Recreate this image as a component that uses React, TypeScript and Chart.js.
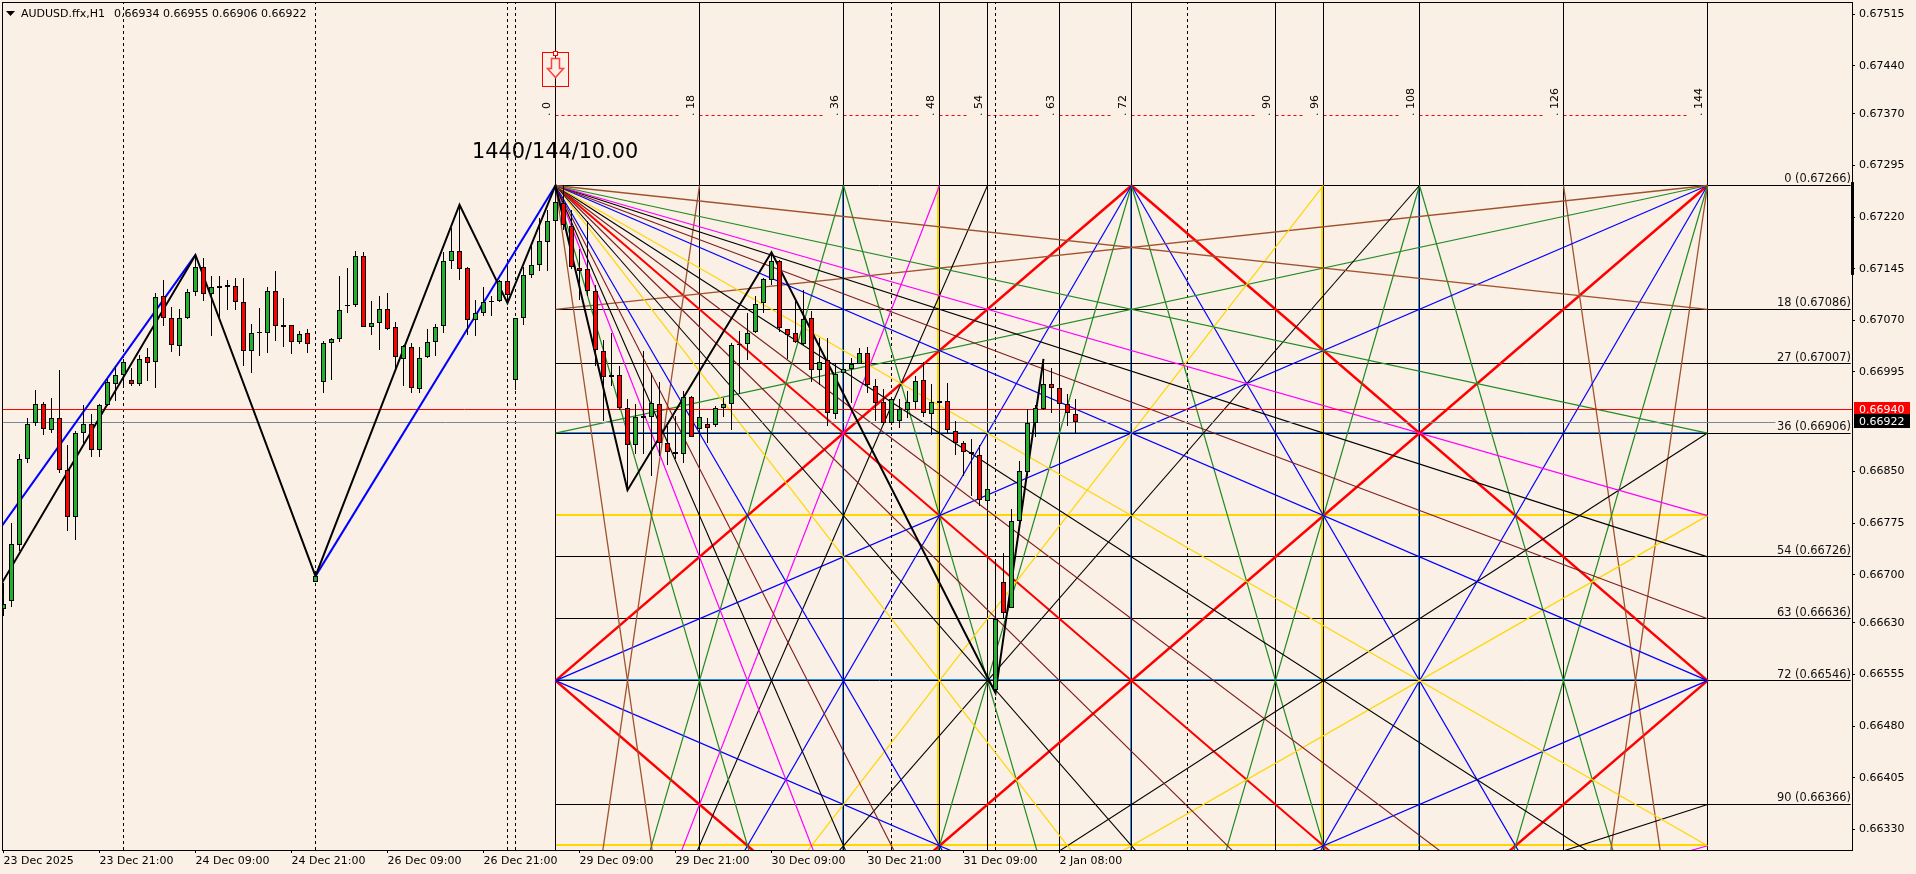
import { useEffect, useRef } from "react";
import { Chart, registerables } from "chart.js";

Chart.register(...registerables);

const FONT = '"DejaVu Sans", sans-serif';
const PAPER = "#FAF0E6";
const BROWN = "#A0522D";
const GREEN = "#228B22";
const MAGENTA = "#FF00FF";
const BLACK = "#000000";
const MAROON = "#7F1D1D";
const BLUE = "#0000FF";
const GOLD = "#FFD700";
const RED = "#FF0000";
const AZURE = "#1E90FF";

// Candles, one per hour bar, in points (66934 = 0.66934). The first bar is number -69.
const firstBar = -69;
const opens = [66650,66662,66743,66868,66921,66948,66911,66928,66852,66784,66906,66919,66882,66947,66978,66991,66983,66977,67016,67009,67105,67073,67033,67073,67111,67147,67108,67117,67118,67120,67097,67025,67052,67052,67113,67060,67063,67038,67052,66690,66980,67037,67043,67091,67092,67163,67060,67066,67086,67060,67014,67031,66970,67017,67038,67062,67156,67171,67146,67070,67081,67097,67098,67127,66983,67073,67136,67150,67184,67214,67241,67207,67146,67144,67113,67025,66988,66991,66943,66889,66928,66930,66948,66892,66879,66876,66959,66912,66919,66918,66943,66948,67034,67036,67053,67095,67129,67156,67057,67052,67035,67073,66998,67012,66934,66994,66999,67006,67023,66974,66951,66921,66924,66940,66951,66983,66934,66950,66953,66909,66892,66879,66874,66807,66532,66690,66652,66778,66849,66921,66941,66977,66971,66948,66934];
const highs = [66688,66775,66876,66928,66968,66951,66957,66997,66888,66909,66947,66934,66949,66984,67003,67013,67000,67020,67029,67110,67129,67090,67087,67116,67165,67160,67135,67135,67129,67131,67132,67065,67088,67118,67142,67103,67063,67054,67057,66698,67040,67044,67135,67146,67171,67170,67098,67106,67109,67068,67034,67037,67031,67058,67065,67170,67204,67238,67147,67099,67118,67106,67129,67149,67073,67148,67180,67219,67231,67266,67266,67231,67173,67214,67122,67042,67052,67003,66955,66948,67025,66994,66981,66916,66931,66967,66960,66931,66928,66945,66957,67037,67055,67081,67105,67132,67169,67157,67057,67098,67114,67084,67044,67044,67006,67010,67015,67029,67031,66985,66970,66957,66956,66967,66989,67010,66978,66979,66979,66923,66894,66897,66888,66826,66722,66731,66795,66866,66941,66947,67014,67001,66991,66963,66955];
const lows = [66640,66653,66734,66862,66916,66903,66906,66848,66763,66750,66892,66871,66871,66945,66952,66974,66974,66974,66982,66971,67061,67024,67018,67072,67105,67098,67047,67072,67085,67085,67003,66994,67018,67022,67040,67031,67021,67035,67022,66690,66964,66983,67039,67080,67089,67060,67048,67027,67056,66996,66974,66964,66964,67015,67018,67051,67145,67128,67048,67047,67076,67076,67096,67094,66968,67063,67131,67142,67141,67214,67202,67144,67100,67105,67003,66923,66974,66940,66824,66876,66875,66843,66872,66859,66869,66863,66900,66892,66892,66915,66929,66911,66963,67012,67052,67080,67122,67053,67014,67037,67034,66980,66976,66916,66927,66950,66950,67006,66964,66923,66918,66918,66914,66928,66941,66930,66903,66916,66904,66874,66843,66814,66800,66804,66528,66637,66651,66778,66843,66900,66940,66935,66947,66917,66906];
const closes = [66658,66744,66868,66919,66948,66912,66928,66852,66784,66906,66919,66882,66947,66980,66991,67009,66978,67014,67008,67104,67073,67034,67073,67111,67147,67108,67118,67120,67121,67097,67025,67052,67053,67113,67062,67063,67038,67050,67036,66698,67037,67043,67085,67092,67163,67060,67066,67086,67057,67017,67033,66972,67015,67038,67060,67156,67171,67145,67070,67081,67097,67098,67127,67107,67073,67136,67150,67185,67214,67242,67209,67148,67141,67113,67027,66988,66991,66942,66888,66930,66931,66950,66892,66879,66876,66959,66900,66930,66914,66943,66948,67034,67036,67052,67094,67130,67156,67059,67049,67039,67072,66998,67009,66935,66992,66999,67006,67023,66976,66950,66921,66956,66941,66951,66982,66935,66951,66953,66911,66892,66879,66876,66809,66825,66635,66644,66778,66851,66921,66942,66977,66971,66948,66935,66922];

// Zigzag and trend lines (bar number, price)
const zigzagBars = [-69.2, -45, -30, -12, -6, 0, 9, 27, 55, 61];
const zigzagPrices = [0.66688, 0.67165, 0.66698, 0.67238, 0.67095, 0.67266, 0.66823, 0.67169, 0.66528, 0.67014];
const trendABars = [-69.2, -45];
const trendAPrices = [0.66771, 0.67165];
const trendBBars = [-30, 0];
const trendBPrices = [0.66698, 0.67266];

// Gann box: grid unit = 1 bar across, 0.00010 down, from the pivot
const pivotPrice = 0.67266;
const priceUnit = 0.0001;
const gannBars = [0, 18, 36, 48, 54, 63, 72, 90, 96, 108, 126, 144];
const gannLabels = gannBars.map((b) => ". " + b);
const blueBars = [36, 72, 108];
const goldBars = [48, 96];
const levelNames = [0, 18, 27, 36, 54, 63, 72, 90];
const levelPrices = [0.67266, 0.67086, 0.67007, 0.66906, 0.66726, 0.66636, 0.66546, 0.66366];
const blueLevels = [36, 72];
const goldLevels = [48, 96];
const dashedBars = [-54, -30, -6, -5, 42, 55, 79];
const dottedPrice = 0.67368;

// Fan segments: from bar, from unit, to bar, to unit, colour, width
const fans: [number, number, number, number, string, number][] = [
  [0, 0, 144, 18, BROWN, 1.3], [0, 0, 144, 36, GREEN, 1.2], [0, 0, 144, 48, MAGENTA, 1.2],
  [0, 0, 144, 54, BLACK, 1.1], [0, 0, 144, 63, MAROON, 1.1], [0, 0, 144, 72, BLUE, 1.2],
  [0, 0, 144, 96, GOLD, 1.2], [0, 0, 144, 108, BLACK, 1.1], [0, 0, 144, 126, MAROON, 1.1],
  [0, 0, 126, 144, MAROON, 1.1], [0, 0, 108, 144, BLACK, 1.1], [0, 0, 96, 144, GOLD, 1.2],
  [0, 0, 72, 144, BLUE, 1.2], [0, 0, 63, 144, MAROON, 1.1], [0, 0, 54, 144, BLACK, 1.1],
  [0, 0, 48, 144, MAGENTA, 1.2], [0, 0, 36, 144, GREEN, 1.2], [0, 0, 18, 144, BROWN, 1.3],
  [0, 144, 18, 0, BROWN, 1.3], [0, 144, 36, 0, GREEN, 1.2], [0, 144, 48, 0, MAGENTA, 1.2],
  [0, 144, 54, 0, BLACK, 1.1], [0, 144, 72, 0, BLUE, 1.2], [0, 144, 96, 0, GOLD, 1.2],
  [0, 144, 108, 0, BLACK, 1.1],
  [0, 144, 144, 36, BLACK, 1.1], [0, 144, 144, 48, GOLD, 1.2], [0, 144, 144, 72, BLUE, 1.2],
  [0, 144, 144, 90, BLACK, 1.1], [0, 144, 144, 96, MAGENTA, 1.2],
  [0, 18, 144, 0, BROWN, 1.3], [0, 36, 144, 0, GREEN, 1.2], [0, 72, 144, 0, BLUE, 1.2],
  [108, 144, 144, 0, GREEN, 1.2], [126, 144, 144, 0, BROWN, 1.3], [72, 144, 144, 0, BLUE, 1.2],
  [36, 0, 72, 144, GREEN, 1.2], [72, 0, 108, 144, GREEN, 1.2], [36, 144, 72, 0, GREEN, 1.2],
  [72, 144, 108, 0, GREEN, 1.2], [108, 0, 144, 144, GREEN, 1.2], [126, 0, 144, 144, BROWN, 1.3],
  [72, 0, 144, 144, BLUE, 1.2], [0, 72, 144, 144, BLUE, 1.2],
  [0, 72, 72, 0, RED, 2.5], [72, 0, 144, 72, RED, 2.5], [0, 72, 72, 144, RED, 2.5],
  [72, 144, 144, 72, RED, 2.5], [0, 0, 144, 144, RED, 2], [0, 144, 144, 0, RED, 2.5],
];

// Axes
const yTicks = [0.67515, 0.6744, 0.6737, 0.67295, 0.6722, 0.67145, 0.6707, 0.66995, 0.6685, 0.66775, 0.667, 0.6663, 0.66555, 0.6648, 0.66405, 0.6633];
const xTickBars = [-69, -57, -45, -33, -21, -9, 3, 15, 27, 39, 51, 63];
const xTickLabels = ["23 Dec 2025", "23 Dec 21:00", "24 Dec 09:00", "24 Dec 21:00", "26 Dec 09:00", "26 Dec 21:00", "29 Dec 09:00", "29 Dec 21:00", "30 Dec 09:00", "30 Dec 21:00", "31 Dec 09:00", "2 Jan 08:00"];
const xMin = -69.1875;
const xMax = 162.0625;
const yMin = 0.662998;
const yMax = 0.675328;

const headerName = "AUDUSD.ffx,H1";
const headerValues = "0.66934 0.66955 0.66906 0.66922";
const boxTitle = "1440/144/10.00";
const askPrice = 0.6694;
const bidPrice = 0.66922;
const bidLineEndBar = 152.5;
const rangeBarPrices = [0.67271, 0.67136];
const arrowAnchorPrice = 0.6746;

const levelToPrice = (m: number) => pivotPrice - m * priceUnit;
const points = (v: number) => v / 100000;

const line = (xs: number[], ys: number[], color: string, width: number, order: number, extra: any = {}) => ({
  type: "line",
  data: xs.map((x, i) => ({ x, y: ys[i] })),
  borderColor: color,
  borderWidth: width,
  pointRadius: 0,
  tension: 0,
  fill: false,
  order,
  ...extra,
});

const snapPlugin = {
  id: "snap",
  afterDatasetsUpdate(chart: any) {
    chart.data.datasets.forEach((ds: any, i: number) => {
      const meta = chart.getDatasetMeta(i);
      if (ds.type === "bar") {
        meta.data.forEach((b: any) => {
          const t = Math.round(Math.min(b.y, b.base));
          let e = Math.round(Math.max(b.y, b.base));
          if (e - t < 1) e = t + 1;
          b.y = t;
          b.base = e;
          b.height = e - t;
        });
      } else if (ds.snap) {
        const odd = Math.round(ds.borderWidth) % 2 === 1;
        const fix = (v: number) => (odd ? Math.round(v - 0.5) + 0.5 : Math.floor(v)) + (ds.shift || 0);
        meta.data.forEach((p: any) => {
          if (ds.snap === "h") p.y = fix(p.y);
          else p.x = fix(p.x);
        });
      }
    });
  },
};

const paperPlugin = {
  id: "paper",
  beforeDraw(chart: any) {
    const { ctx, width, height } = chart;
    ctx.save();
    ctx.fillStyle = PAPER;
    ctx.fillRect(0, 0, width, height);
    ctx.restore();
  },
};

const notesPlugin = {
  id: "notes",
  afterDraw(chart: any) {
    const { ctx, scales } = chart;
    const X = scales.x;
    const Y = scales.y;
    const area = chart.chartArea;
    ctx.save();

    // frame
    ctx.strokeStyle = "#000";
    ctx.lineWidth = 1;
    ctx.strokeRect(area.left + 0.5, area.top + 0.5, area.right - area.left, area.bottom - area.top);

    // range mark on the right edge
    ctx.fillStyle = "#000";
    const r0 = Y.getPixelForValue(rangeBarPrices[0]);
    const r1 = Y.getPixelForValue(rangeBarPrices[1]);
    ctx.fillRect(area.right - 1, r0, 3, r1 - r0);

    // header
    ctx.textBaseline = "alphabetic";
    ctx.textAlign = "left";
    ctx.fillStyle = "#000";
    ctx.beginPath();
    ctx.moveTo(6, 11);
    ctx.lineTo(15, 11);
    ctx.lineTo(10.5, 16);
    ctx.closePath();
    ctx.fill();
    ctx.font = `11px ${FONT}`;
    ctx.fillText(headerName, 21, 17);
    ctx.fillText(headerValues, 114, 17);

    // box title
    ctx.font = `20.8px ${FONT}`;
    ctx.fillText(boxTitle, 472, 158);

    // rotated number labels
    ctx.font = `11px ${FONT}`;
    gannBars.forEach((b, i) => {
      ctx.save();
      ctx.translate(Math.round(X.getPixelForValue(b)) - 6.5, 116);
      ctx.rotate(-Math.PI / 2);
      ctx.fillText(gannLabels[i], 0, 0);
      ctx.restore();
    });

    // level labels
    ctx.textAlign = "right";
    ctx.font = `11.4px ${FONT}`;
    ctx.fillStyle = "#111";
    levelNames.forEach((n, i) => {
      const y = Math.round(Y.getPixelForValue(levelPrices[i]));
      ctx.fillText(`${n} (${levelPrices[i].toFixed(5)})`, 1851, y - 3);
    });

    // signal arrow box
    const ax = Math.floor(X.getPixelForValue(0)) + 0.5;
    const ay = Math.round(Y.getPixelForValue(arrowAnchorPrice)) + 0.5;
    ctx.strokeStyle = RED;
    ctx.lineWidth = 1;
    ctx.strokeRect(ax - 13, ay, 26, 34);
    ctx.beginPath();
    ctx.moveTo(ax - 4, ay + 6);
    ctx.lineTo(ax + 4, ay + 6);
    ctx.lineTo(ax + 4, ay + 16);
    ctx.lineTo(ax + 8, ay + 16);
    ctx.lineTo(ax, ay + 25);
    ctx.lineTo(ax - 8, ay + 16);
    ctx.lineTo(ax - 4, ay + 16);
    ctx.closePath();
    ctx.fillStyle = PAPER;
    ctx.fill();
    ctx.strokeStyle = "#FF4040";
    ctx.lineWidth = 1.5;
    ctx.stroke();
    ctx.lineWidth = 1;
    ctx.strokeStyle = RED;
    ctx.fillStyle = "#FFF";
    ctx.fillRect(ax - 2, ay - 1, 4, 4);
    ctx.strokeRect(ax - 2, ay - 1, 4, 4);

    // price tags
    ctx.textAlign = "left";
    ctx.textBaseline = "middle";
    ctx.font = `11px ${FONT}`;
    const tag = (price: number, bg: string, h: number, up: number) => {
      const y = Math.round(Y.getPixelForValue(price));
      ctx.fillStyle = bg;
      ctx.fillRect(1854, y - up, 56, h);
      ctx.fillStyle = "#FFF";
      ctx.fillText(price.toFixed(5), 1859, y + 0.5);
    };
    tag(askPrice, RED, 12, 8);
    tag(bidPrice, "#000", 14, 8);
    ctx.restore();
  },
};

const zeroPadding = (s: any) => {
  s.paddingLeft = 0;
  s.paddingRight = 0;
  s.paddingTop = 0;
  s.paddingBottom = 0;
};

export default function App() {
  const ref = useRef<HTMLCanvasElement | null>(null);
  useEffect(() => {
    document.body.style.margin = "0";
    const canvas = ref.current!;
    const bars = opens.map((_, i) => firstBar + i);
    const solid = [yMin, yMax];

    const datasets: any[] = [];
    // candle bodies, wicks on top of everything else
    datasets.push({
      type: "bar",
      data: bars.map((x, i) => ({ x, y: [points(opens[i]), points(closes[i])] })),
      backgroundColor: bars.map((_, i) => (closes[i] >= opens[i] ? "#22B02E" : "#FF0000")),
      borderColor: "#000",
      borderWidth: 1,
      borderSkipped: false,
      inflateAmount: 0,
      grouped: false,
      barThickness: 5,
      maxBarThickness: 5,
      order: 0,
    });
    datasets.push({
      type: "bar",
      data: bars.map((x, i) => ({ x, y: [points(lows[i]), points(highs[i])] })),
      backgroundColor: "#000",
      borderWidth: 0,
      inflateAmount: 0,
      grouped: false,
      barThickness: 1,
      maxBarThickness: 1,
      order: 1,
    });
    // zigzag and trends
    datasets.push(line(zigzagBars, zigzagPrices, BLACK, 2, 2));
    datasets.push(line(trendABars, trendAPrices, BLUE, 2, 3));
    datasets.push(line(trendBBars, trendBPrices, BLUE, 2, 3));
    // price lines
    datasets.push(line([xMin, xMax], [askPrice, askPrice], RED, 1, 4, { snap: "h" }));
    datasets.push(line([xMin, bidLineEndBar], [bidPrice, bidPrice], "#778899", 1, 4, { snap: "h" }));
    // fans
    fans.forEach(([n1, m1, n2, m2, c, w]) => {
      datasets.push(line([n1, n2], [levelToPrice(m1), levelToPrice(m2)], c, w, 5));
    });
    // gann grid
    const lineEnd = 161.9;
    levelPrices.forEach((p) => datasets.push(line([0, lineEnd], [p, p], BLACK, 1, 6, { snap: "h" })));
    blueLevels.forEach((m) => datasets.push(line([0, 144], [levelToPrice(m), levelToPrice(m)], AZURE, 1, 7, { snap: "h", shift: -1 })));
    goldLevels.forEach((m) => datasets.push(line([0, 144], [levelToPrice(m), levelToPrice(m)], GOLD, 2, 7, { snap: "h" })));
    gannBars.forEach((b) => datasets.push(line([b, b], solid, BLACK, 1, 6, { snap: "v" })));
    blueBars.forEach((b) => datasets.push(line([b, b], [pivotPrice, yMin], AZURE, 1, 7, { snap: "v", shift: -1 })));
    goldBars.forEach((b) => datasets.push(line([b, b], [pivotPrice, yMin], GOLD, 2, 7, { snap: "v", shift: -1 })));
    // dashed time lines
    dashedBars.forEach((b) => datasets.push(line([b, b], solid, BLACK, 1, 8, { snap: "v", borderDash: [3, 3] })));
    // dotted top line, broken ahead of each number
    gannBars.slice(0, -1).forEach((b, i) => {
      datasets.push(line([b, gannBars[i + 1] - 2.6], [dottedPrice, dottedPrice], RED, 1, 8, { snap: "h", borderDash: [3, 3] }));
    });

    const chart = new Chart(canvas, {
      data: { datasets },
      plugins: [paperPlugin, snapPlugin, notesPlugin],
      options: {
        animation: false,
        responsive: false,
        devicePixelRatio: 1,
        layout: { autoPadding: false, padding: { left: 2, top: 2, right: 0, bottom: 0 } },
        plugins: { legend: { display: false }, tooltip: { enabled: false }, title: { display: false } },
        events: [],
        scales: {
          x: {
            type: "linear",
            position: "bottom",
            offset: false,
            min: xMin,
            max: xMax,
            afterFit: (s: any) => {
              s.height = 24;
              zeroPadding(s);
            },
            afterBuildTicks: (s: any) => {
              s.ticks = xTickBars.map((value) => ({ value }));
            },
            grid: { offset: false, drawOnChartArea: false, drawTicks: true, tickLength: 3, color: "#000", tickColor: "#000" },
            border: { display: false },
            ticks: {
              autoSkip: false,
              maxRotation: 0,
              minRotation: 0,
              align: "start",
              padding: 2,
              color: "#000",
              font: { family: FONT, size: 11 },
              callback: (v: any) => xTickLabels[xTickBars.indexOf(Number(v))] ?? "",
            },
          },
          y: {
            type: "linear",
            position: "right",
            min: yMin,
            max: yMax,
            afterFit: (s: any) => {
              s.width = 64;
              zeroPadding(s);
            },
            afterBuildTicks: (s: any) => {
              s.ticks = yTicks.map((value) => ({ value }));
            },
            grid: { drawOnChartArea: false, drawTicks: true, tickLength: 3, color: "#000", tickColor: "#000" },
            border: { display: false },
            ticks: {
              autoSkip: false,
              padding: 4,
              color: "#000",
              font: { family: FONT, size: 11 },
              callback: (v: any) => Number(v).toFixed(5),
            },
          },
        },
      } as any,
    } as any);
    return () => chart.destroy();
  }, []);

  return (
    <div style={{ position: "fixed", left: 0, top: 0, width: 1916, height: 874, overflow: "hidden" }}>
      <canvas ref={ref} width={1916} height={874} style={{ display: "block" }} />
    </div>
  );
}
